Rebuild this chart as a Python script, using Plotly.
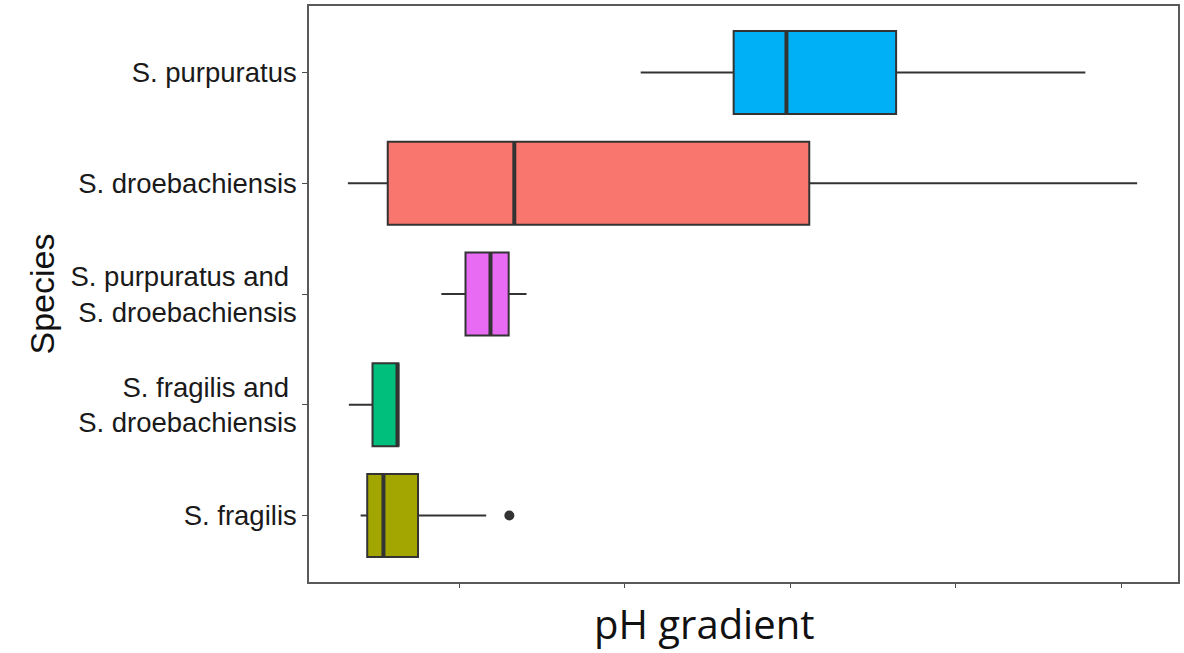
import plotly.graph_objects as go

# Species groups, listed bottom to top on the y axis
species = [
    "S. fragilis",
    "S. fragilis and\u00a0<br>S. droebachiensis",
    "S. purpuratus and\u00a0<br>S. droebachiensis",
    "S. droebachiensis",
    "S. purpuratus",
]
positions = [1, 2, 3, 4, 5]

# Box summary statistics of the pH gradient for each group
lower_whisker = [0.0402, 0.0331, 0.0890, 0.0325, 0.2095]
q1_values     = [0.0442, 0.0474, 0.1036, 0.0566, 0.2657]
medians       = [0.0540, 0.0625, 0.1187, 0.1331, 0.2976]
q3_values     = [0.0749, 0.0630, 0.1297, 0.3114, 0.3639]
upper_whisker = [0.1161, 0.0630, 0.1405, 0.5096, 0.4783]

# Outlying observations (group position, value)
outlier_pos = [1]
outlier_val = [0.1301]

fill_colors = ["#A3A500", "#00BF7D", "#E76BF3", "#F8766D", "#00B0F6"]
x_ticks = [0.1, 0.2, 0.3, 0.4, 0.5]

BOX_WIDTH = 0.75
EDGE = "#333333"

fig = go.Figure()

for i, pos in enumerate(positions):
    fig.add_trace(go.Box(
        y=[pos],
        q1=[q1_values[i]],
        median=[medians[i]],
        q3=[q3_values[i]],
        lowerfence=[lower_whisker[i]],
        upperfence=[upper_whisker[i]],
        orientation="h",
        width=BOX_WIDTH,
        whiskerwidth=0,
        fillcolor=fill_colors[i],
        line=dict(color=EDGE, width=2),
        boxpoints=False,
        hoverinfo="skip",
        showlegend=False,
    ))
    # heavier median stroke, as in ggplot's fattened median
    half = BOX_WIDTH / 2
    fig.add_trace(go.Scatter(
        x=[medians[i], medians[i]],
        y=[pos - half, pos + half],
        mode="lines",
        line=dict(color=EDGE, width=4),
        hoverinfo="skip",
        showlegend=False,
    ))

fig.add_trace(go.Scatter(
    x=outlier_val,
    y=outlier_pos,
    mode="markers",
    marker=dict(color=EDGE, size=10),
    hoverinfo="skip",
    showlegend=False,
))

fig.update_layout(
    width=1184,
    height=653,
    margin=dict(l=309, r=4, t=6, b=71),
    paper_bgcolor="white",
    plot_bgcolor="white",
    boxmode="overlay",
    font=dict(family="Liberation Sans, Arial, sans-serif", color="#1a1a1a"),
    xaxis=dict(
        range=[0.009, 0.5343],
        tickvals=x_ticks,
        showticklabels=False,
        ticks="outside",
        ticklen=4,
        tickwidth=1.3,
        tickcolor="#4d4d4d",
        showgrid=False,
        zeroline=False,
        showline=True,
        mirror=True,
        linecolor="#5a5a5a",
        linewidth=1.5,
    ),
    yaxis=dict(
        range=[0.4, 5.6],
        tickvals=positions,
        ticktext=species,
        ticks="outside",
        ticklen=5,
        tickwidth=1.3,
        tickcolor="#4d4d4d",
        tickfont=dict(size=27.5, color="#1a1a1a"),
        showgrid=False,
        zeroline=False,
        showline=True,
        mirror=True,
        linecolor="#5a5a5a",
        linewidth=1.5,
        title=dict(
            text="Species",
            font=dict(size=34, color="#111111"),
            standoff=6,
        ),
    ),
    annotations=[
        dict(
            text="pH gradient",
            xref="paper", yref="paper",
            x=0.4547, y=-0.1233,
            xanchor="center", yanchor="bottom",
            showarrow=False,
            font=dict(family="Open Sans, Noto Sans, sans-serif", size=40, color="#111111"),
        )
    ],
)

fig.write_html("out.html")
